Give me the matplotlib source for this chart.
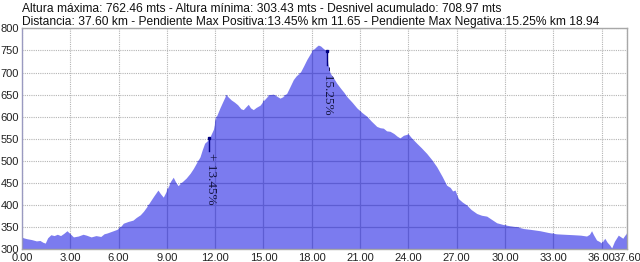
import matplotlib
matplotlib.use("Agg")
import matplotlib.pyplot as plt
import numpy as np

# elevation profile (km, metres)
km = [0.0, 0.3, 0.6, 0.9, 1.12, 1.3, 1.45, 1.6, 1.8, 2.0, 2.2, 2.4, 2.6, 2.8, 3.0, 3.2, 3.5, 3.8, 4.0, 4.3,
      4.6, 4.9, 5.1, 5.3, 5.6, 5.9, 6.1, 6.3, 6.6, 6.9, 7.1, 7.35, 7.55, 7.75, 8.0, 8.2, 8.45, 8.6, 8.78, 8.95,
      9.1, 9.25, 9.4, 9.55, 9.7, 9.9, 10.2, 10.45, 10.65, 10.85, 11.06, 11.2, 11.35, 11.5, 11.65, 11.9, 12.05,
      12.3, 12.5, 12.68, 12.8, 13.0, 13.2, 13.4, 13.6, 13.75, 13.9, 14.06, 14.2, 14.37, 14.55, 14.79, 15.0,
      15.3, 15.6, 15.8, 16.03, 16.2, 16.45, 16.65, 16.86, 17.05, 17.27, 17.5, 17.69, 17.9, 18.1, 18.3, 18.41,
      18.55, 18.7, 18.93, 19.0, 19.14, 19.35, 19.55, 19.8, 20.0, 20.17, 20.5, 20.8, 21.1, 21.42, 21.7, 22.04,
      22.25, 22.45, 22.65, 22.86, 23.1, 23.3, 23.48, 23.7, 24.0, 24.2, 24.52, 24.8, 25.14, 25.45, 25.76, 26.1,
      26.38, 26.6, 26.75, 26.9, 27.1, 27.35, 27.63, 27.9, 28.25, 28.55, 28.87, 29.2, 29.49, 29.9, 30.32, 30.7,
      31.14, 31.6, 32.18, 32.7, 33.2, 33.7, 34.24, 34.7, 35.07, 35.25, 35.38, 35.5, 35.69, 35.85, 36.01, 36.2,
      36.35, 36.5, 36.63, 36.8, 37.04, 37.2, 37.32, 37.45, 37.6]
elev = [327, 324, 322, 319, 320, 316, 314, 326, 333, 331, 334, 331, 336, 342, 335, 328, 330, 334, 332, 328,
        331, 329, 335, 337, 341, 345, 350, 359, 363, 366, 372, 378, 386, 396, 410, 421, 434, 426, 418, 430,
        442, 455, 463, 452, 444, 451, 461, 472, 483, 496, 509, 525, 540, 545, 552, 572, 598,
        620, 636, 650, 645, 638, 633, 627, 618, 616, 622, 628, 620, 616, 621, 626, 636,
        648, 651, 647, 642, 645, 653, 668, 684, 693, 699, 715, 729, 742, 752, 759, 762,
        760, 755, 748, 720, 699, 688, 676, 664, 655, 646, 633, 620, 610, 601, 590, 578,
        575, 574, 568, 567, 562, 556, 552, 558, 561, 552, 540, 530, 517, 503, 487, 465,
        445, 440, 432, 434, 415, 407, 400, 390, 381, 377, 375, 367, 360, 356, 353, 351,
        347, 345, 342, 338, 335, 334, 333, 332, 330, 334, 342, 333, 321, 318, 314, 325,
        316, 310, 303, 318, 332, 328, 325, 332, 338]

x_ticks = [0, 3, 6, 9, 12, 15, 18, 21, 24, 27, 30, 33, 36, 37.6]
y_ticks = [300, 350, 400, 450, 500, 550, 600, 650, 700, 750, 800]

# max slope markers: (km, elevation, label)
slope_km = [11.65, 18.93]
slope_elev = [552, 748]
slope_labels = ["+ 13.45%", "- 15.25%"]

title_1 = "Altura máxima: 762.46 mts - Altura mínima: 303.43 mts - Desnivel acumulado: 708.97 mts"
title_2 = ("Distancia: 37.60 km - Pendiente Max Positiva:13.45% km 11.65 - "
           "Pendiente Max Negativa:15.25% km 18.94")

plt.rcParams["font.family"] = ["Liberation Sans", "DejaVu Sans"]

fig = plt.figure(figsize=(6.4, 2.62), dpi=100)
ax = fig.add_axes([21.9 / 640, 1 - 249.3 / 262, (627.3 - 21.9) / 640, (249.3 - 28.3) / 262])

ax.set_xlim(0, 37.6)
ax.set_ylim(300, 800)

# light dotted grid behind the profile
for xv in x_ticks:
    ax.axvline(xv, color="#b4b4b4", lw=0.8, ls=(0, (1, 1)), zorder=1)
for yv in y_ticks:
    ax.axhline(yv, color="#b4b4b4", lw=0.8, ls=(0, (1, 1)), zorder=1)

poly = ax.fill_between(km, elev, 300, color="#7b7bef", lw=0, zorder=2)

# darker solid grid seen through the filled area
clip = poly.get_paths()[0]
for xv in x_ticks:
    ln = ax.axvline(xv, color="#5d5dd2", lw=0.9, zorder=3)
    ln.set_clip_path(clip, ax.transData)
for yv in y_ticks:
    ln = ax.axhline(yv, color="#5d5dd2", lw=0.9, zorder=3)
    ln.set_clip_path(clip, ax.transData)

for sk, se, lab in zip(slope_km, slope_elev, slope_labels):
    ax.plot([sk, sk], [se, se - 30], color="#000080", lw=1, zorder=4)
    ax.plot([sk], [se], marker="s", ms=1.8, color="#000080", zorder=5)
    ax.text(sk + 0.08, se - 34, lab, rotation=270, ha="center", va="top",
            family=["Liberation Serif", "DejaVu Serif"], fontsize=9.5, color="#141440", zorder=5)

ax.set_xticks(x_ticks)
ax.set_xticklabels([f"{v:.2f}" for v in x_ticks])
ax.set_yticks(y_ticks)
ax.tick_params(length=0, labelsize=8, colors="#222222", pad=2)
ax.tick_params(axis="x", pad=3)

for side in ["top", "right", "bottom"]:
    ax.spines[side].set_color("#a8a8a8")
ax.spines["left"].set_color("#9a9ac0")
for s in ax.spines.values():
    s.set_linewidth(1)
    s.set_zorder(6)

fig.text(22 / 640, 1 - 8.5 / 262, title_1, fontsize=8.65, va="center", ha="left", color="#111111")
fig.text(22 / 640, 1 - 22 / 262, title_2, fontsize=8.65, va="center", ha="left", color="#111111")

fig.savefig("out.png", dpi=100)
